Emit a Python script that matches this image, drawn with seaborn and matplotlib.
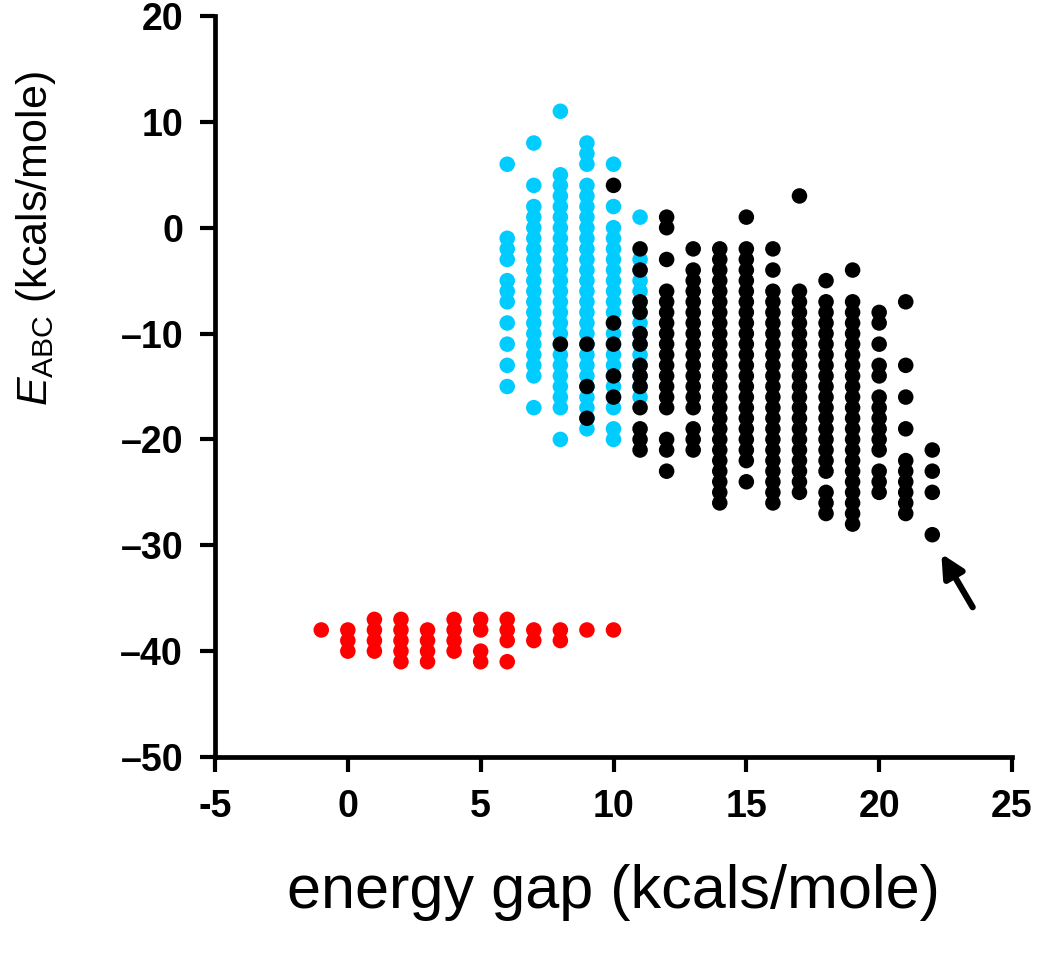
import numpy as np
import pandas as pd
import matplotlib
matplotlib.use("Agg")
import matplotlib.pyplot as plt
import seaborn as sns

# columns of dots: (energy gap, top E_ABC, bottom E_ABC) -> one dot per integer kcal
red_runs = [(-1, -38, -38), (0, -38, -40), (1, -37, -40), (2, -37, -41),
            (3, -38, -41), (4, -37, -40), (5, -37, -38), (5, -40, -41),
            (6, -37, -39), (6, -41, -41), (7, -38, -39), (8, -38, -39),
            (9, -38, -38), (10, -38, -38)]

cyan_runs = [(6, 6, 6), (6, -1, -3), (6, -5, -7), (6, -9, -9), (6, -11, -11),
             (6, -13, -13), (6, -15, -15),
             (7, 8, 8), (7, 4, 4), (7, 2, -14), (7, -17, -17),
             (8, 11, 11), (8, 5, -17), (8, -20, -20),
             (9, 8, 6), (9, 4, -19),
             (10, 6, 6), (10, 2, 2), (10, 0, -17), (10, -19, -20),
             (11, 1, 1), (11, -3, -16)]

black_runs = [(8, -11, -11),
              (9, -11, -11), (9, -15, -15), (9, -18, -18),
              (10, 4, 4), (10, -9, -9), (10, -11, -11), (10, -14, -14), (10, -16, -16),
              (11, -2, -2), (11, -4, -4), (11, -7, -8), (11, -10, -11),
              (11, -13, -15), (11, -17, -17), (11, -19, -21),
              (12, 1, 0), (12, -3, -3), (12, -6, -17), (12, -20, -21), (12, -23, -23),
              (13, -2, -2), (13, -4, -17), (13, -19, -21),
              (14, -2, -26),
              (15, 1, 1), (15, -2, -22), (15, -24, -24),
              (16, -2, -2), (16, -4, -4), (16, -6, -26),
              (17, 3, 3), (17, -6, -25),
              (18, -5, -5), (18, -7, -23), (18, -25, -27),
              (19, -4, -4), (19, -7, -28),
              (20, -8, -9), (20, -11, -11), (20, -13, -14), (20, -16, -21), (20, -23, -25),
              (21, -7, -7), (21, -13, -13), (21, -16, -16), (21, -19, -19), (21, -22, -27),
              (22, -21, -21), (22, -23, -23), (22, -25, -25), (22, -29, -29)]

groups = ["red", "cyan", "black"]
colors = ["#FF0000", "#00CCFF", "#000000"]
x_ticks = [-5, 0, 5, 10, 15, 20, 25]
y_ticks = [-50, -40, -30, -20, -10, 0, 10, 20]


def expand(runs, name):
    rows = []
    for x, top, bottom in runs:
        for y in range(top, bottom - 1, -1):
            rows.append({"gap": x, "eabc": y, "group": name})
    return rows


df = pd.DataFrame(expand(red_runs, "red") + expand(cyan_runs, "cyan")
                  + expand(black_runs, "black"))

sns.set_style("ticks")
plt.rcParams["font.family"] = ["Liberation Sans", "DejaVu Sans"]
plt.rcParams["mathtext.fontset"] = "custom"
plt.rcParams["mathtext.rm"] = "Liberation Sans"
plt.rcParams["mathtext.it"] = "Liberation Sans:italic"
plt.rcParams["text.color"] = "black"
plt.rcParams["axes.labelcolor"] = "black"
plt.rcParams["xtick.color"] = "black"
plt.rcParams["ytick.color"] = "black"
plt.rcParams["axes.edgecolor"] = "black"

fig = plt.figure(figsize=(10.5, 9.55), dpi=100)
ax = fig.add_axes([215 / 1050, 1 - 757 / 955, 797 / 1050, 741 / 955])

sns.scatterplot(data=df, x="gap", y="eabc", hue="group", hue_order=groups,
                palette=dict(zip(groups, colors)), s=125, linewidth=0,
                legend=False, ax=ax, zorder=3)

ax.annotate("", xy=(22.34, -30.8), xytext=(23.52, -35.85),
            arrowprops=dict(arrowstyle="-|>", lw=4.5, color="black",
                            mutation_scale=34, shrinkA=0, shrinkB=0))

ax.set_xlim(-5, 25)
ax.set_ylim(-50, 20)
ax.set_xticks(x_ticks)
ax.set_yticks(y_ticks)
ax.set_xticklabels([str(t) for t in x_ticks], fontsize=27, fontweight="bold")
ax.set_yticklabels([str(t).replace("-", "\u2013") for t in y_ticks],
                   fontsize=27, fontweight="bold")
ax.tick_params(axis="both", direction="out", length=11, width=3, pad=12)

for side in ["top", "right"]:
    ax.spines[side].set_visible(False)
for side in ["left", "bottom"]:
    ax.spines[side].set_linewidth(3.4)
    ax.spines[side].set_color("black")

ax.set_xlabel("energy gap (kcals/mole)", fontsize=44, labelpad=28)
ax.set_ylabel(r"$E_{\mathrm{ABC}}$ (kcals/mole)", fontsize=31)
ax.yaxis.set_label_coords(-0.197, 0.70)

fig.savefig("out.png", dpi=100)
